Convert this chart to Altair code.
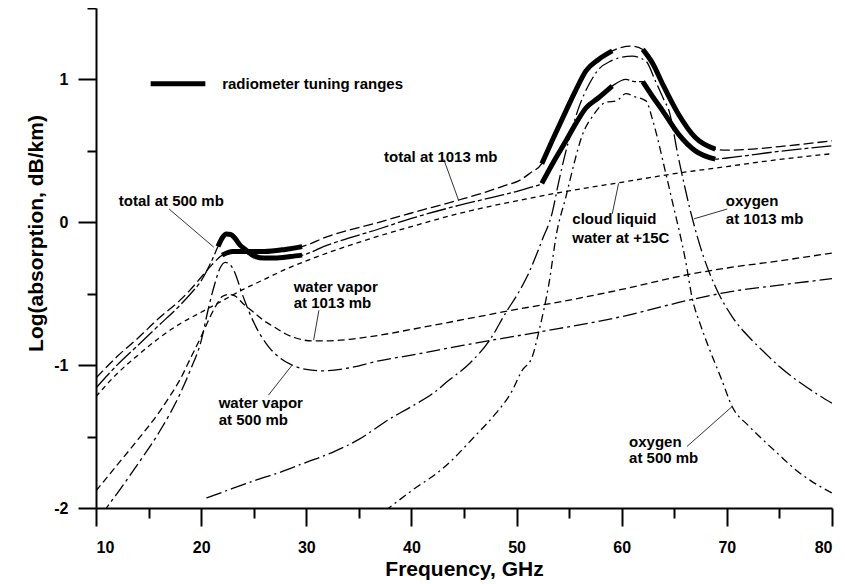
import altair as alt
import pandas as pd

# ---------------- axis ticks ----------------
X_TICKS = [10, 15, 20, 25, 30, 35, 40, 45, 50, 55, 60, 65, 70, 75, 80]
Y_TICKS = [-2, -1.5, -1, -0.5, 0, 0.5, 1, 1.5]

# ---------------- curves ----------------
t1_f = [10, 12, 14, 16, 18, 19, 20, 21, 22, 23, 24, 26, 28, 29.6, 32, 36.9, 40, 44.5, 47, 49, 50.2,
        51.3, 52.4, 53.5, 54.7, 55.6, 56.6, 57.8, 59.1, 60, 61, 62, 63, 63.9, 65.4, 67, 68.9, 70, 72, 75, 80]
t1_v = [-1.09, -0.94, -0.81, -0.67, -0.545, -0.47, -0.385, -0.30, -0.23, -0.205, -0.205, -0.205, -0.19,
        -0.17, -0.10, 0.0, 0.065, 0.156, 0.21, 0.26, 0.29, 0.345, 0.41, 0.59, 0.78, 0.92, 1.06, 1.14, 1.2,
        1.225, 1.233, 1.21, 1.105, 0.966, 0.756, 0.593, 0.512, 0.505, 0.51, 0.53, 0.57]

t5_f = [10, 12, 14, 16, 18, 19, 20, 21, 21.6, 22.0, 22.4, 22.8, 23.2, 23.7, 24.2, 25, 26, 27, 28.5, 29.6,
        32, 36.9, 40, 44.5, 48, 50.2, 51.3, 52.4, 53.5, 54.7, 55.6, 56.6, 57.8, 59.1, 60.4, 61.2, 62, 62.9,
        63.9, 65.4, 67, 68.9, 70, 75, 80]
t5_v = [-1.16, -1.0, -0.86, -0.72, -0.58, -0.50, -0.41, -0.27, -0.17, -0.11, -0.082, -0.085, -0.11, -0.16,
        -0.19, -0.235, -0.25, -0.25, -0.24, -0.23, -0.16, -0.047, 0.027, 0.118, 0.18, 0.22, 0.245, 0.272,
        0.42, 0.57, 0.687, 0.80, 0.872, 0.954, 1.0, 0.985, 0.984, 0.884, 0.78, 0.617, 0.50, 0.442, 0.45,
        0.497, 0.535]

wv1_f = [10, 12, 14, 16, 17, 18, 19, 20, 21, 21.6, 22.0, 22.6, 23.2, 24, 25, 26, 27, 28, 29, 30.5, 32,
         34, 37, 40, 45, 50, 55, 60, 66.4, 70, 75, 80]
wv1_v = [-1.88, -1.70, -1.52, -1.33, -1.22, -1.10, -0.95, -0.80, -0.64, -0.56, -0.52, -0.505, -0.515,
         -0.57, -0.63, -0.69, -0.735, -0.78, -0.81, -0.83, -0.83, -0.82, -0.79, -0.75, -0.68, -0.61, -0.545,
         -0.47, -0.365, -0.32, -0.27, -0.215]

wv5_f = [10.5, 11, 12, 14, 16, 18, 19, 20, 20.7, 21.3, 21.8, 22.3, 22.8, 23.3, 23.8, 24.2, 25, 26.4, 27.5,
         28.65, 30, 31.5, 34, 36.9, 40, 45, 52, 60, 66.7, 70, 75, 80]
wv5_v = [-2.06, -2.0, -1.9, -1.69, -1.47, -1.2, -1.03, -0.83, -0.60, -0.43, -0.32, -0.28, -0.30, -0.37,
         -0.48, -0.56, -0.70, -0.87, -0.95, -1.0, -1.03, -1.04, -1.02, -0.97, -0.93, -0.86, -0.77, -0.66,
         -0.54, -0.49, -0.44, -0.395]

cl_f = [10, 12, 14, 16, 18, 20, 22, 24, 26, 28, 30, 35, 40, 45, 50, 55, 60, 65, 70, 75, 80]
cl_v = [-1.22, -1.06, -0.93, -0.81, -0.71, -0.63, -0.55, -0.47, -0.40, -0.33, -0.27, -0.14, -0.03, 0.07,
        0.15, 0.22, 0.28, 0.34, 0.39, 0.44, 0.48]

o1_f = [20.5, 22, 25, 27.5, 30, 32.5, 35, 37.85, 40, 42, 43.5, 45.5, 47.4, 49, 50.2, 51, 52.4, 53.4, 54,
        54.7, 55.3, 56, 57, 57.8, 59, 60, 61, 62.3, 63.2, 64, 64.5, 65.4, 66.6, 67.8, 68.9, 70.5, 72.4,
        73.7, 75, 77.5, 80]
o1_v = [-1.93, -1.89, -1.81, -1.75, -1.68, -1.61, -1.52, -1.38, -1.29, -1.20, -1.11, -0.99, -0.83, -0.63,
        -0.49, -0.38, -0.13, 0.07, 0.28, 0.50, 0.66, 0.82, 0.98, 1.07, 1.13, 1.155, 1.163, 1.128, 0.99,
        0.86, 0.78, 0.45, 0.06, -0.245, -0.45, -0.66, -0.826, -0.92, -1.01, -1.15, -1.267]

o5_f = [37.5, 40, 43.2, 46, 48, 49.5, 50.5, 51.5, 52.1, 53.1, 53.8, 54.7, 55.5, 56.2, 57.3, 58.5, 59.5,
        60.4, 61.2, 62.3, 63, 64.2, 64.8, 66.1, 66.7, 67.5, 68.3, 69.5, 70.5, 72, 73.4, 75, 76.5, 78, 80]
o5_v = [-2.02, -1.88, -1.71, -1.50, -1.34, -1.19, -1.04, -0.94, -0.77, -0.42, -0.08, 0.18, 0.42, 0.60,
        0.75, 0.84, 0.85, 0.90, 0.88, 0.85, 0.70, 0.34, 0.15, -0.28, -0.53, -0.72, -0.88, -1.1, -1.29,
        -1.42, -1.52, -1.63, -1.73, -1.81, -1.895]

names = ["total 1013", "total 500", "wv 1013", "wv 500", "cloud", "oxygen 1013", "oxygen 500"]
dashes = [[10, 4], [20, 3, 4, 3], [7, 4], [14, 4, 3, 4], [5, 4], [16, 4, 2, 4], [8, 4, 2, 4]]
all_f = [t1_f, t5_f, wv1_f, wv5_f, cl_f, o1_f, o5_f]
all_v = [t1_v, t5_v, wv1_v, wv5_v, cl_v, o1_v, o5_v]

# radiometer tuning ranges (GHz)
t1_ranges = [(22.0, 29.6), (52.4, 59.1), (62.0, 68.9)]
t5_ranges = [(21.6, 29.6), (52.4, 59.1), (62.0, 68.9)]

# ---------------- annotations ----------------
lab_text = ["radiometer tuning ranges", "total at 500 mb", "total at 1013 mb", "cloud liquid",
            "water at +15C", "oxygen", "at 1013 mb", "water vapor", "at 1013 mb", "water vapor",
            "at 500 mb", "oxygen", "at 500 mb"]
lab_f = [22.0, 12.17, 37.4, 55.3, 55.3, 69.9, 69.9, 28.8, 28.8, 21.67, 21.67, 60.7, 60.7]
lab_v = [0.97, 0.15, 0.46, 0.024, -0.107, 0.151, 0.024, -0.456, -0.567, -1.265, -1.385, -1.537, -1.65]

ptr_f = [16.95, 43.07, 59.1, 70.04, 31.2, 26.4, 66.2]
ptr_v = [0.093, 0.442, 0.059, 0.093, -0.616, -1.21, -1.57]
ptr_f2 = [21.2, 44.5, 59.7, 66.87, 30.7, 28.65, 70.5]
ptr_v2 = [-0.174, 0.151, 0.272, 0.024, -0.825, -1.0, -1.29]

leg_f, leg_f2, leg_v = [15.2], [20.4], [0.97]

# ---------------- tables ----------------
curves = pd.concat([pd.DataFrame({"f": fs, "v": vs, "s": n}) for n, fs, vs in zip(names, all_f, all_v)])

thick_parts = []
for n, fs, vs, rngs in [(names[0], t1_f, t1_v, t1_ranges), (names[1], t5_f, t5_v, t5_ranges)]:
    d = pd.DataFrame({"f": fs, "v": vs})
    for i, (a, b) in enumerate(rngs):
        sub = d[(d.f >= a) & (d.f <= b)].copy()
        sub["seg"] = f"{n}-{i}"
        thick_parts.append(sub)
thick = pd.concat(thick_parts)

labels = pd.DataFrame({"f": lab_f, "v": lab_v, "t": lab_text})
pointers = pd.DataFrame({"f": ptr_f, "v": ptr_v, "f2": ptr_f2, "v2": ptr_v2})
legend = pd.DataFrame({"f": leg_f, "f2": leg_f2, "v": leg_v})

FONT = "Liberation Sans"

xenc = alt.X("f:Q", scale=alt.Scale(domain=[10, 80], nice=False, zero=False),
             axis=alt.Axis(values=X_TICKS, title="Frequency, GHz",
                           labelExpr="datum.value % 10 === 0 ? datum.label : ''",
                           tickSize={"condition": {"test": "datum.value % 10 === 0", "value": 18}, "value": 10},
                           labelPadding=13, titlePadding=3))
yenc = alt.Y("v:Q", scale=alt.Scale(domain=[-2, 1.5], nice=False, zero=False),
             axis=alt.Axis(values=Y_TICKS, title="Log(absorption, dB/km)",
                           labelExpr="datum.value % 1 === 0 ? '' + datum.value : ''",
                           tickSize={"condition": {"test": "datum.value % 1 === 0", "value": 18}, "value": 9},
                           labelPadding=10, titleX=-50, titleY=225))

lines = alt.Chart(curves).mark_line(strokeWidth=1.3, color="black", interpolate="monotone", clip=True).encode(
    x=xenc, y=yenc, detail="s:N",
    strokeDash=alt.StrokeDash("s:N", scale=alt.Scale(domain=names, range=dashes), legend=None))

thick_lines = alt.Chart(thick).mark_line(strokeWidth=5, color="black", interpolate="monotone").encode(
    x=xenc, y=yenc, detail="seg:N")

ptr = alt.Chart(pointers).mark_rule(strokeWidth=1, color="#333333").encode(
    x=xenc, x2=alt.X2("f2:Q"), y=yenc, y2=alt.Y2("v2:Q"))

leg = alt.Chart(legend).mark_rule(strokeWidth=5, color="black").encode(
    x=xenc, x2=alt.X2("f2:Q"), y=yenc)

txt = alt.Chart(labels).mark_text(align="left", baseline="middle", font=FONT, fontSize=15,
                                  fontWeight="bold", color="black").encode(x=xenc, y=yenc, text="t:N")

chart = alt.layer(lines, thick_lines, ptr, leg, txt).properties(
    width=736, height=500,
    autosize=alt.AutoSizeParams(type="none"),
    padding={"left": 88, "top": 0, "right": 4, "bottom": 76},
).configure_view(stroke=None).configure_axis(
    grid=False, domainColor="black", domainWidth=2, tickColor="black", tickWidth=2,
    labelFont=FONT, labelFontSize=16, labelFontWeight="bold", labelColor="black",
    titleFont=FONT, titleFontSize=21, titleFontWeight="bold", titleColor="black",
)

chart.save("out.html", embed_options={"renderer": "svg", "actions": False})
